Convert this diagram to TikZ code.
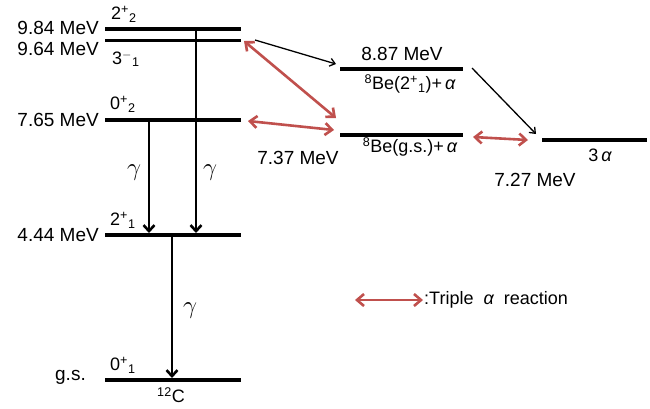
\documentclass[tikz,border=0pt]{standalone}
\usepackage{fontspec}
\setmainfont{Liberation Sans}
\usetikzlibrary{arrows.meta}
\definecolor{redarr}{RGB}{192,80,77}
\newcommand{\galpha}{{\itshape α}}
\begin{document}
\begin{tikzpicture}[x=1pt,y=-1pt,
 level/.style={line width=3.2pt},
 gam/.style={line width=2.8pt,-{Straight Barb[length=6pt,width=11pt,line width=2.6pt]}},
 thinarr/.style={line width=1.3pt,-{Straight Barb[length=5pt,width=8pt]}},
 rarr/.style={draw=redarr,line width=2.6pt,{Straight Barb[length=7pt,width=12pt]}-{Straight Barb[length=7pt,width=12pt]}},
 lab/.style={font=\fontsize{19}{22}\selectfont, inner sep=0pt},
 spin/.style={font=\fontsize{18}{20}\selectfont, inner sep=0pt, anchor=west},
 be/.style={font=\fontsize{18}{20}\selectfont, inner sep=0pt},
 gl/.style={font=\fontsize{23}{26}\selectfont, inner sep=0pt},
]
\useasboundingbox (0,0) rectangle (650,408);
% level end points
\coordinate (a1) at (105,29);   \coordinate (a2) at (241,29);
\coordinate (b1) at (105,40.5); \coordinate (b2) at (241,40.5);
\coordinate (c1) at (105,120);  \coordinate (c2) at (241,120);
\coordinate (d1) at (105,235);  \coordinate (d2) at (241,235);
\coordinate (e1) at (105,380);  \coordinate (e2) at (241,380);
\coordinate (f1) at (340,69);   \coordinate (f2) at (463,69);
\coordinate (g1) at (340,135);  \coordinate (g2) at (463,135);
\coordinate (h1) at (542,140);  \coordinate (h2) at (647,140);
\foreach \p in {a,b,c,d,e,f,g,h} \draw[level] (\p1) -- (\p2);
% gamma transitions
\coordinate (ga1) at (196,29);  \coordinate (ga2) at (196,233);
\coordinate (gb1) at (149,120); \coordinate (gb2) at (149,233);
\coordinate (gc1) at (172,235); \coordinate (gc2) at (172,378);
\draw[gam] (ga1) -- (ga2);
\draw[gam] (gb1) -- (gb2);
\draw[gam] (gc1) -- (gc2);
\node[gl] (gam1) at (134,173) {$\gamma$};
\node[gl] (gam2) at (210,173) {$\gamma$};
\node[gl] (gam3) at (190,311) {$\gamma$};
% left energies
\node[lab, anchor=east] (e984) at (99,27.5) {9.84 MeV};
\node[lab, anchor=east] (e964) at (99,49) {9.64 MeV};
\node[lab, anchor=east] (e765) at (99,119.5) {7.65 MeV};
\node[lab, anchor=east] (e444) at (99,235) {4.44 MeV};
\node[lab, anchor=east] (egs) at (86,377) {g.s.};
% spins
\node[spin] (s1) at (111,14) {2\textsuperscript{+}\textsubscript{2}};
\node[spin] (s2) at (112,59) {3\textsuperscript{$-$}\textsubscript{1}};
\node[spin] (s3) at (110,104) {0\textsuperscript{+}\textsubscript{2}};
\node[spin] (s4) at (110,220) {2\textsuperscript{+}\textsubscript{1}};
\node[spin] (s5) at (110,365) {0\textsuperscript{+}\textsubscript{1}};
\node[be] (c12) at (171,395) {\textsuperscript{12}C};
% right side labels
\node[lab] (e887) at (402,54) {8.87 MeV};
\node[be] (be2) at (410,84) {\textsuperscript{8}Be(2\textsuperscript{+}\textsubscript{1})+\,\galpha};
\node[be] (begs) at (410,147) {\textsuperscript{8}Be(g.s.)+\,\galpha};
\node[lab] (e737) at (298,158) {7.37 MeV};
\node[be] (thra) at (600,155) {3\,\galpha};
\node[lab] (e727) at (535,180) {7.27 MeV};
% black arrows
\coordinate (k1) at (255,40);  \coordinate (k2) at (336,64);
\coordinate (m1) at (472,68);  \coordinate (m2) at (536,134);
\draw[thinarr] (k1) -- (k2);
\draw[thinarr] (m1) -- (m2);
% red arrows
\coordinate (r1a) at (244,41);  \coordinate (r1b) at (336,118);
\coordinate (r2a) at (248,121); \coordinate (r2b) at (334,130);
\coordinate (r3a) at (473,137); \coordinate (r3b) at (528,140);
\draw[rarr] (r1a) -- (r1b);
\draw[rarr] (r2a) -- (r2b);
\draw[rarr] (r3a) -- (r3b);
% legend
\coordinate (la) at (355,300); \coordinate (lb) at (423,300);
\draw[rarr] (la) -- (lb);
\node[be, anchor=west] (legtxt) at (424,300) {:Triple\; \galpha\; reaction};
\end{tikzpicture}
\end{document}
